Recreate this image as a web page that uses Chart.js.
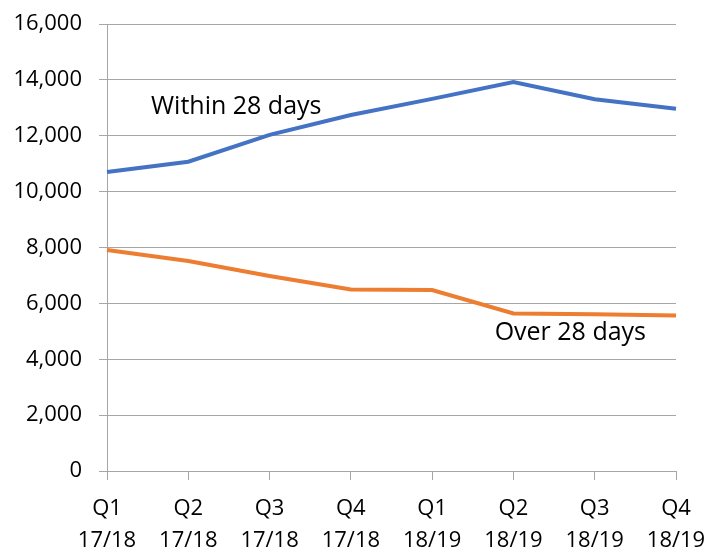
<!DOCTYPE html>
<html>
<head>
<meta charset="utf-8">
<script src="https://cdn.jsdelivr.net/npm/chart.js@4.4.0/dist/chart.umd.min.js"></script>
<style>
html,body{margin:0;padding:0;background:#fff;}
#wrap{width:709px;height:550px;position:relative;}
</style>
</head>
<body>
<div id="wrap"><canvas id="c" width="709" height="550"></canvas></div>
<script>
const categories = [['Q1','17/18'],['Q2','17/18'],['Q3','17/18'],['Q4','17/18'],['Q1','18/19'],['Q2','18/19'],['Q3','18/19'],['Q4','18/19']];
const within28 = [10700, 11070, 12030, 12740, 13320, 13920, 13310, 12970];
const over28 = [7910, 7520, 6980, 6500, 6480, 5640, 5610, 5570];
const seriesNames = ['Within 28 days', 'Over 28 days'];
const yTicks = {min: 0, max: 16000, step: 2000};

const FONT = "'Open Sans', sans-serif";

const seriesLabels = {
  id: 'seriesLabels',
  afterDatasetsDraw(chart) {
    const ctx = chart.ctx;
    const xs = chart.scales.x, ys = chart.scales.y;
    ctx.save();
    ctx.font = "25px " + FONT;
    ctx.fillStyle = '#000';
    ctx.textAlign = 'center';
    ctx.textBaseline = 'middle';
    ctx.fillText(seriesNames[0], xs.getPixelForValue(1.59), ys.getPixelForValue(13030));
    ctx.fillText(seriesNames[1], xs.getPixelForValue(5.7), ys.getPixelForValue(4940));
    ctx.restore();
  }
};

new Chart(document.getElementById('c'), {
  type: 'line',
  data: {
    labels: categories,
    datasets: [
      {label: seriesNames[0], data: within28, borderColor: '#4472C4', borderWidth: 4, pointRadius: 0, tension: 0, fill: false},
      {label: seriesNames[1], data: over28, borderColor: '#ED7D31', borderWidth: 4, pointRadius: 0, tension: 0, fill: false}
    ]
  },
  options: {
    responsive: false,
    animation: false,
    devicePixelRatio: 1,
    layout: {padding: {top: 24, right: 33, bottom: 0, left: 0}},
    plugins: {legend: {display: false}, tooltip: {enabled: false}},
    scales: {
      x: {
        offset: false,
        grid: {display: true, drawOnChartArea: false, drawTicks: true, tickLength: 9, color: '#A6A6A6', lineWidth: 1},
        border: {display: true, color: '#A6A6A6', width: 1},
        ticks: {color: '#000', font: {family: FONT, size: 22, lineHeight: 1.45}, padding: 13, maxRotation: 0, autoSkip: false},
        afterFit(s) { s.height = 79; s.paddingLeft = 0; s.paddingRight = 0; }
      },
      y: {
        min: yTicks.min, max: yTicks.max,
        grid: {color: '#A6A6A6', lineWidth: 1, tickLength: 8, drawTicks: true},
        border: {display: true, color: '#A6A6A6', width: 1},
        ticks: {stepSize: yTicks.step, color: '#000', font: {family: FONT, size: 22}, padding: 17,
          callback: v => v.toLocaleString('en-US')},
        afterFit(s) { s.width = 107; s.paddingTop = 0; s.paddingBottom = 0; }
      }
    }
  },
  plugins: [seriesLabels]
});
</script>
</body>
</html>
